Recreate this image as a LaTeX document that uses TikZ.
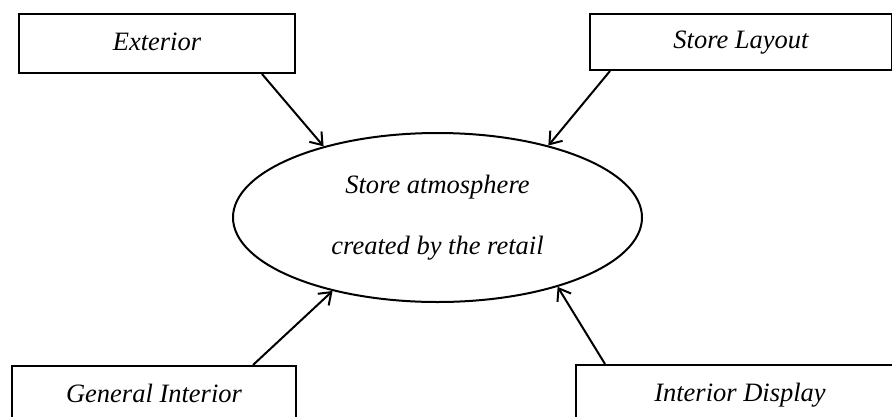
\documentclass[tikz,border=0pt]{standalone}
\usepackage{fontspec}
\setmainfont{Liberation Serif}
\usetikzlibrary{arrows.meta,calc,shapes.geometric}
\tikzset{>={Straight Barb[length=11pt,width=16pt]},every node/.style={font=\fontsize{26.5}{61}\selectfont\itshape},
box/.style={draw,line width=2pt,inner sep=0pt,text height=18pt,text depth=5pt},flow/.style={line width=2pt,->}}
\begin{document}
\begin{tikzpicture}[x=1pt,y=-1pt]
\useasboundingbox (0,0) rectangle (892,416);
\node[box,minimum width=276pt,minimum height=59pt] (ext) at (157,43.5){Exterior};
\node[box,minimum width=302pt,minimum height=56pt] (lay) at (741,42){Store Layout};
\node[box,minimum width=284pt,minimum height=60pt] (gen) at (154,396){General Interior};
\node[box,minimum width=328pt,minimum height=60pt] (disp) at (740,395){Interior Display};
\node[draw,ellipse,line width=2pt,minimum width=409pt,minimum height=169pt,inner sep=0pt,align=center] (ell) at (437.5,217.5){Store atmosphere\\created by the retail};
\draw[flow] ($(ext.south west)+(244,0)$) -- (ell.148);\draw[flow] ($(lay.south west)+(21,0)$) -- (ell.33);
\draw[flow] ($(gen.north west)+(242,0)$) -- (ell.215);\draw[flow] ($(disp.north west)+(30,0)$) -- (ell.330);
\end{tikzpicture}
\end{document}
